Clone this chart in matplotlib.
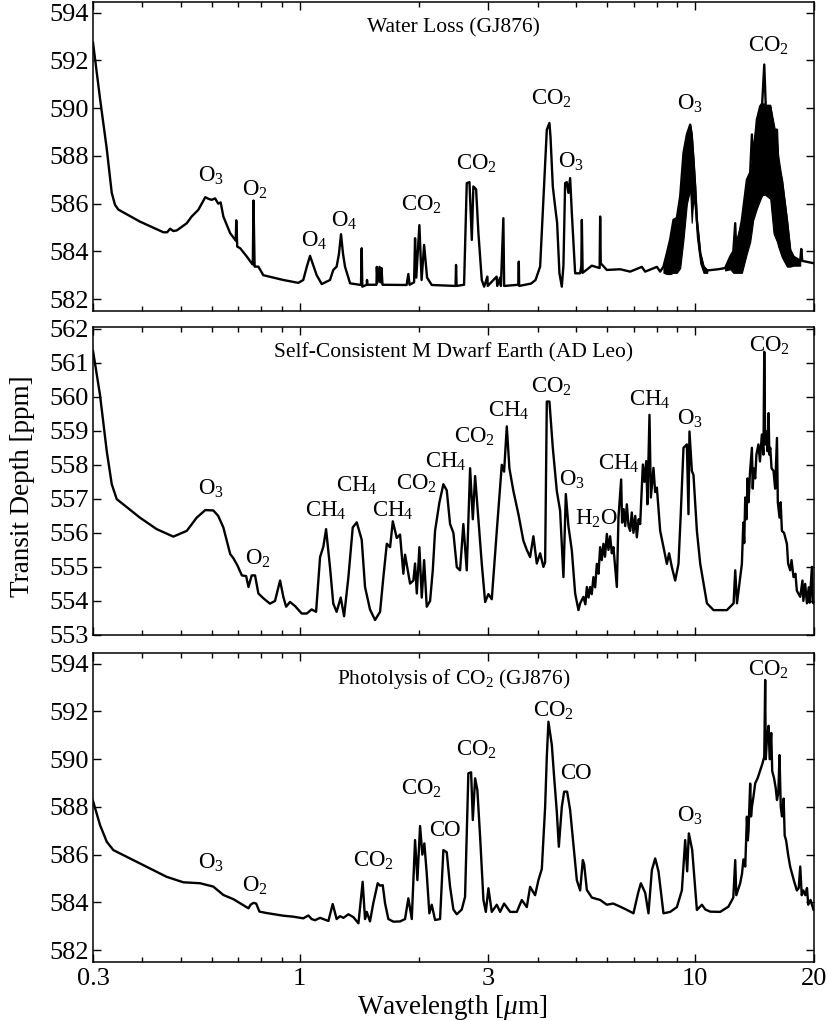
import numpy as np
import matplotlib
matplotlib.use("Agg")
import matplotlib.pyplot as plt
from matplotlib.ticker import FixedLocator, LogLocator, NullFormatter

plt.rcParams['font.family'] = ['Liberation Serif', 'DejaVu Serif']
plt.rcParams['mathtext.fontset'] = 'custom'
plt.rcParams['mathtext.rm'] = 'Liberation Serif'
plt.rcParams['mathtext.it'] = 'Liberation Serif:italic'

# ---- Water Loss (GJ876) ----
wl_water = [0.300, 0.3125, 0.325, 0.3346, 0.341, 0.3477, 0.394, 0.452, 0.462, 0.470,
            0.479, 0.489, 0.518, 0.533, 0.554, 0.577, 0.588, 0.599, 0.611, 0.622,
            0.631, 0.641, 0.667, 0.689, 0.691, 0.695, 0.707, 0.735, 0.756, 0.761,
            0.764, 0.769, 0.786, 0.809, 0.909, 0.992, 1.021, 1.042, 1.062, 1.083,
            1.104, 1.137, 1.193, 1.216, 1.240, 1.257, 1.272, 1.287, 1.302, 1.341,
            1.429, 1.435, 1.440, 1.478, 1.480, 1.484, 1.564, 1.567, 1.574, 1.592,
            1.601, 1.610, 1.620, 1.864, 1.883, 1.896, 1.947, 1.958, 1.972, 2.008,
            2.034, 2.064, 2.100, 2.158, 2.479, 2.486, 2.494, 2.605, 2.646, 2.688,
            2.725, 2.750, 2.794, 2.832, 2.888, 2.928, 2.984, 2.990, 3.149, 3.160,
            3.213, 3.228, 3.275, 3.290, 3.575, 3.583, 3.590, 3.849, 3.950, 4.057,
            4.136, 4.218, 4.283, 4.310, 4.368, 4.427, 4.479, 4.540, 4.603, 4.647,
            4.693, 4.739, 4.784, 4.832, 4.880, 4.975, 5.122, 5.158, 5.173, 5.197,
            5.483, 5.738, 5.755, 5.775, 5.984, 6.466, 6.854, 7.338, 7.481, 8.009,
            8.164, 8.322, 8.489, 8.654, 8.822, 8.998, 9.173, 9.351, 9.538, 9.723,
            9.809, 9.912, 10.01, 10.11, 10.31, 10.51, 10.74, 11.45, 11.92, 12.28,
            12.50, 12.64, 12.72, 13.14, 13.53, 13.79, 13.93, 14.03, 14.34, 14.62,
            14.79, 14.97, 15.10, 15.50, 15.80, 16.12, 16.24, 16.59, 17.08, 17.41,
            17.75, 18.46, 18.57, 18.68, 20.0]
td_water = [592.75, 590.4, 588.3, 586.45, 585.95, 585.75, 585.25, 584.8, 584.8, 584.95,
            584.85, 584.88, 585.18, 585.46, 585.74, 586.27, 586.2, 586.16, 586.22, 586.0,
            586.05, 585.46, 584.76, 584.45, 585.3, 584.2, 584.13, 583.78, 583.5, 583.45,
            586.13, 583.36, 583.36, 583.0, 582.8, 582.68, 582.8, 583.35, 583.81, 583.4,
            583.0, 582.63, 582.8, 583.22, 583.36, 583.9, 584.72, 583.9, 583.36, 582.66,
            582.59, 584.13, 582.52, 582.6, 582.8, 582.6, 582.6, 583.35, 582.7, 583.35,
            582.7, 583.3, 582.6, 582.59, 583.05, 582.6, 582.7, 584.55, 582.9, 585.1,
            582.8, 584.27, 582.9, 582.59, 582.55, 583.43, 582.55, 582.6, 586.86, 586.9,
            584.48, 586.72, 586.6, 584.76, 582.8, 582.52, 582.94, 582.55, 582.94, 582.55,
            582.9, 582.55, 585.39, 582.55, 582.6, 583.57, 582.55, 582.65, 582.8, 583.36,
            586.16, 589.1, 589.38, 588.8, 586.72, 585.88, 585.2, 583.08, 582.52, 583.4,
            586.86, 586.9, 586.45, 587.07, 585.6, 583.08, 583.08, 583.4, 585.32, 583.1,
            583.4, 583.3, 585.46, 583.5, 583.22, 583.25, 583.15, 583.35, 583.15, 583.35,
            583.15, 583.36, 583.92, 584.5, 585.32, 585.4, 586.3, 588.12, 588.9, 589.31,
            588.9, 587.84, 586.72, 585.32, 583.92, 583.36, 583.2, 583.25, 583.3, 583.78,
            584.0, 585.18, 584.0, 585.32, 587.0, 587.3, 588.9, 587.8, 589.52, 590.08,
            590.2, 591.83, 590.1, 590.1, 589.1, 589.1, 587.6, 587.0, 585.32, 584.06,
            583.78, 583.6, 584.1, 583.6, 583.5]

# dense (unresolved) bands of the Water Loss spectrum: lower / upper envelopes
wl_o3band = [8.322, 8.489, 8.654, 8.822, 8.998, 9.173, 9.351, 9.538, 9.723, 9.809,
             9.912, 10.01, 10.11, 10.31, 10.51, 10.74]
o3band_hi = [583.36, 583.92, 584.5, 585.32, 585.4, 586.3, 588.12, 588.9, 589.31, 588.9,
             587.84, 586.72, 585.32, 583.92, 583.36, 583.2]
o3band_lo = [583.1, 583.05, 583.05, 583.1, 583.1, 583.3, 584.5, 586.0, 586.6, 585.2,
             586.3, 585.7, 584.6, 583.5, 583.1, 583.1]

wl_co2band = [11.92, 12.28, 12.50, 12.64, 12.72, 13.14, 13.53, 13.79, 13.93, 14.03,
              14.34, 14.62, 14.79, 14.97, 15.10, 15.50, 15.80, 16.12, 16.24, 16.59,
              17.08, 17.41, 17.75, 18.46]
co2band_hi = [583.3, 583.78, 584.0, 584.3, 584.5, 585.32, 587.0, 587.3, 587.9, 588.5,
              589.52, 590.08, 590.2, 590.2, 590.1, 590.1, 589.4, 588.6, 588.0, 587.0,
              585.32, 584.06, 583.78, 583.6]
co2band_lo = [583.2, 583.25, 583.1, 583.1, 583.1, 583.1, 583.92, 584.4, 584.9, 585.3,
              585.8, 586.16, 586.35, 586.37, 586.35, 586.2, 584.76, 584.4, 584.2, 583.75,
              583.36, 583.36, 583.4, 583.4]

# ---- Self-Consistent M Dwarf Earth (AD Leo) ----
wl_adleo = [0.300, 0.3125, 0.325, 0.3346, 0.3445, 0.3578, 0.394, 0.4347, 0.479, 0.518,
            0.549, 0.577, 0.6045, 0.622, 0.641, 0.667, 0.680, 0.696, 0.714, 0.732,
            0.742, 0.756, 0.771, 0.786, 0.809, 0.841, 0.866, 0.892, 0.909, 0.924,
            0.945, 0.973, 1.012, 1.042, 1.072, 1.100, 1.126, 1.148, 1.166, 1.193,
            1.216, 1.240, 1.270, 1.295, 1.328, 1.362, 1.394, 1.435, 1.463, 1.506,
            1.551, 1.597, 1.628, 1.661, 1.693, 1.720, 1.760, 1.794, 1.829, 1.847,
            1.902, 1.939, 1.958, 1.978, 2.008, 2.036, 2.064, 2.096, 2.137, 2.171,
            2.200, 2.256, 2.309, 2.355, 2.401, 2.448, 2.497, 2.545, 2.594, 2.646,
            2.698, 2.741, 2.778, 2.832, 2.888, 2.945, 3.002, 3.061, 3.152, 3.245,
            3.289, 3.341, 3.392, 3.472, 3.575, 3.680, 3.754, 3.827, 3.901, 3.979,
            4.057, 4.136, 4.177, 4.218, 4.283, 4.368, 4.471, 4.558, 4.647, 4.712,
            4.784, 4.880, 4.975, 5.072, 5.122, 5.221, 5.280, 5.326, 5.380, 5.429,
            5.480, 5.534, 5.590, 5.645, 5.700, 5.755, 5.810, 5.867, 5.920, 5.984,
            6.040, 6.100, 6.160, 6.218, 6.343, 6.403, 6.504, 6.540, 6.599, 6.660,
            6.723, 6.790, 6.854, 6.920, 6.987, 7.060, 7.127, 7.200, 7.266, 7.381,
            7.450, 7.525, 7.581, 7.671, 7.733, 7.851, 7.930, 8.009, 8.164, 8.322,
            8.489, 8.600, 8.740, 8.910, 9.083, 9.200, 9.351, 9.538, 9.627, 9.683,
            9.819, 9.912, 10.11, 10.31, 10.72, 11.14, 12.04, 12.52, 12.64, 12.77,
            13.14, 13.25, 13.32, 13.40, 13.50, 13.58, 13.66, 13.78, 13.93, 14.00,
            14.06, 14.20, 14.30, 14.47, 14.60, 14.76, 14.90, 14.97, 15.05, 15.14,
            15.25, 15.35, 15.42, 15.50, 15.62, 15.80, 15.95, 16.12, 16.20, 16.36,
            16.47, 16.59, 16.80, 17.08, 17.20, 17.41, 17.55, 17.75, 17.95, 18.10,
            18.46, 18.70, 18.80, 19.00, 19.19, 19.40, 19.50, 19.76, 19.85, 20.0]
td_adleo = [561.35, 560.05, 558.4, 557.43, 556.99, 556.84, 556.45, 556.11, 555.89, 556.06,
            556.45, 556.67, 556.66, 556.5, 556.16, 555.38, 555.25, 555.04, 554.75, 554.73,
            554.41, 554.75, 554.75, 554.22, 554.08, 553.92, 554.0, 554.6, 554.12, 553.83,
            553.97, 553.85, 553.63, 553.63, 553.75, 553.68, 555.29, 555.6, 556.11, 554.99,
            553.92, 553.68, 554.1, 553.55, 554.7, 556.16, 556.31, 555.8, 554.41, 553.75,
            553.44, 553.68, 554.7, 555.68, 555.58, 556.34, 555.85, 555.95, 554.8, 555.36,
            554.51, 554.6, 555.1, 554.22, 555.58, 554.1, 555.2, 553.83, 554.0, 554.9,
            556.06, 556.89, 557.43, 557.25, 556.26, 556.0, 554.99, 554.9, 556.26, 554.9,
            557.9, 556.4, 557.67, 556.4, 555.09, 553.97, 554.2, 554.05, 556.06, 558.0,
            557.8, 559.13, 557.9, 557.23, 556.55, 555.77, 555.5, 555.29, 555.9, 555.1,
            555.4, 555.0, 555.14, 559.86, 559.86, 558.5, 557.23, 556.65, 554.7, 557.14,
            556.2, 555.48, 554.22, 553.73, 553.93, 554.12, 553.9, 554.41, 554.1, 554.41,
            554.2, 554.7, 554.4, 555.09, 554.8, 555.58, 555.2, 555.68, 555.3, 555.97,
            555.5, 555.9, 555.4, 555.58, 554.41, 556.45, 557.57, 556.3, 556.7, 556.2,
            556.84, 556.2, 556.06, 556.6, 556.0, 556.5, 555.87, 556.4, 556.26, 558.01,
            557.5, 558.11, 556.84, 559.47, 557.04, 557.91, 557.2, 557.33, 556.06, 555.58,
            555.09, 555.4, 554.99, 554.6, 555.09, 556.5, 558.5, 558.6, 556.55, 558.98,
            557.82, 557.7, 556.06, 555.09, 553.93, 553.73, 553.73, 553.93, 554.9, 553.93,
            555.09, 556.3, 555.7, 557.04, 556.4, 557.6, 556.9, 557.8, 558.5, 557.3,
            557.9, 557.6, 558.3, 558.6, 558.1, 558.89, 558.3, 561.32, 558.6, 558.98,
            558.4, 559.52, 558.3, 558.5, 557.9, 557.82, 557.3, 558.79, 556.9, 556.45,
            556.9, 556.06, 556.0, 555.68, 555.1, 554.9, 555.2, 554.7, 554.8, 554.3,
            554.12, 554.6, 554.0, 554.5, 553.93, 554.4, 553.95, 555.0, 553.95, 553.93]

# ---- Photolysis of CO2 (GJ876) ----
wl_photo = [0.300, 0.3125, 0.325, 0.3377, 0.3792, 0.418, 0.4606, 0.5077, 0.560, 0.6045,
            0.641, 0.680, 0.707, 0.742, 0.751, 0.764, 0.776, 0.791, 0.826, 0.909,
            0.962, 1.021, 1.052, 1.072, 1.093, 1.126, 1.148, 1.182, 1.212, 1.240,
            1.265, 1.290, 1.328, 1.367, 1.408, 1.443, 1.463, 1.478, 1.506, 1.535,
            1.575, 1.597, 1.622, 1.644, 1.676, 1.726, 1.794, 1.847, 1.883, 1.921,
            1.958, 1.985, 2.016, 2.043, 2.067, 2.096, 2.128, 2.158, 2.200, 2.265,
            2.309, 2.355, 2.401, 2.448, 2.497, 2.570, 2.620, 2.671, 2.714, 2.741,
            2.778, 2.815, 2.860, 2.916, 2.957, 3.002, 3.061, 3.152, 3.213, 3.289,
            3.406, 3.542, 3.646, 3.754, 3.827, 3.940, 4.017, 4.097, 4.177, 4.218,
            4.258, 4.343, 4.401, 4.471, 4.524, 4.603, 4.666, 4.748, 4.832, 4.926,
            5.024, 5.122, 5.203, 5.243, 5.326, 5.483, 5.755, 5.984, 6.207, 6.466,
            6.696, 6.987, 7.181, 7.296, 7.481, 7.626, 7.778, 7.930, 8.084, 8.322,
            8.654, 8.998, 9.264, 9.444, 9.555, 9.647, 9.837, 9.912, 10.11, 10.41,
            10.62, 10.93, 11.58, 12.15, 12.50, 12.64, 12.72, 13.01, 13.15, 13.26,
            13.40, 13.53, 13.60, 13.66, 13.79, 13.86, 13.93, 14.05, 14.20, 14.40,
            14.62, 14.80, 14.97, 15.05, 15.10, 15.20, 15.35, 15.45, 15.59, 15.68,
            15.85, 16.00, 16.12, 16.25, 16.36, 16.48, 16.60, 16.76, 16.86, 17.00,
            17.20, 17.41, 17.60, 17.80, 18.10, 18.30, 18.46, 18.62, 18.80, 19.01,
            19.20, 19.34, 19.60, 19.95, 20.0]
td_photo = [588.25, 587.24, 586.54, 586.19, 585.77, 585.42, 585.07, 584.84, 584.8, 584.66,
            584.31, 584.13, 583.96, 583.75, 583.9, 583.98, 583.95, 583.61, 583.55, 583.44,
            583.4, 583.33, 583.45, 583.3, 583.25, 583.35, 583.3, 583.22, 583.93, 583.3,
            583.42, 583.35, 583.5, 583.38, 583.12, 584.86, 583.3, 583.6, 583.2, 583.96,
            584.8, 584.7, 584.72, 583.96, 583.3, 583.19, 583.2, 583.3, 584.17, 583.3,
            586.61, 584.93, 587.2, 586.0, 586.47, 585.2, 583.54, 583.9, 583.26, 583.3,
            586.19, 586.1, 584.65, 583.7, 583.5, 583.7, 584.23, 589.41, 589.45, 587.45,
            589.2, 588.7, 586.75, 584.1, 583.6, 584.59, 583.6, 583.9, 583.6, 583.95,
            583.6, 583.6, 584.1, 583.8, 584.65, 584.3, 584.93, 585.4, 588.0, 590.1,
            591.57, 590.6, 589.27, 587.8, 586.33, 588.0, 588.64, 588.64, 587.87, 586.4,
            584.93, 584.5, 585.77, 585.6, 584.52, 584.2, 584.1, 583.9, 583.95, 583.82,
            583.7, 583.54, 584.4, 584.8, 584.4, 583.54, 585.35, 585.84, 585.3, 583.54,
            583.6, 583.8, 584.5, 586.61, 585.3, 586.89, 586.2, 585.5, 583.68, 583.9,
            583.7, 583.61, 583.6, 583.82, 584.2, 585.77, 584.3, 584.8, 585.2, 585.8,
            585.5, 587.59, 586.6, 587.0, 588.98, 587.6, 588.0, 588.4, 588.99, 589.2,
            589.54, 589.8, 590.1, 593.32, 590.0, 590.8, 591.4, 590.0, 591.1, 589.5,
            589.2, 588.8, 588.29, 588.6, 590.17, 588.0, 587.6, 588.35, 586.8, 586.6,
            586.0, 585.49, 585.2, 584.9, 584.5, 584.6, 585.5, 584.3, 584.5, 584.3,
            584.6, 583.9, 584.1, 583.68, 583.7]

# molecule labels: (text, wavelength, depth)
labels_water = [("O$_3$", 0.597, 587.15), ("O$_2$", 0.770, 586.58), ("O$_4$", 1.090, 584.46),
                ("O$_4$", 1.299, 585.26), ("CO$_2$", 2.036, 585.95), ("CO$_2$", 2.799, 587.67),
                ("CO$_2$", 4.333, 590.40), ("O$_3$", 4.860, 587.76), ("O$_3$", 9.723, 590.19),
                ("CO$_2$", 15.32, 592.63)]
labels_adleo = [("O$_3$", 0.597, 557.29), ("O$_2$", 0.782, 555.25), ("CH$_4$", 1.165, 556.66),
                ("CH$_4$", 1.397, 557.38), ("CH$_4$", 1.723, 556.65), ("CO$_2$", 1.973, 557.44),
                ("CH$_4$", 2.346, 558.10), ("CO$_2$", 2.770, 558.81), ("CH$_4$", 3.377, 559.60),
                ("CO$_2$", 4.338, 560.30), ("O$_3$", 4.875, 557.55), ("H$_2$O", 5.622, 556.42),
                ("CH$_4$", 6.410, 558.04), ("CH$_4$", 7.702, 559.92), ("O$_3$", 9.723, 559.35),
                ("CO$_2$", 15.45, 561.49)]
labels_photo = [("O$_3$", 0.597, 585.65), ("O$_2$", 0.770, 584.68), ("CO$_2$", 1.533, 585.73),
                ("CO$_2$", 2.036, 588.75), ("CO", 2.332, 587.03), ("CO$_2$", 2.799, 590.39),
                ("CO$_2$", 4.376, 592.02), ("CO", 4.990, 589.40), ("O$_3$", 9.723, 587.62),
                ("CO$_2$", 15.32, 593.74)]

titles = ["Water Loss (GJ876)", "Self-Consistent M Dwarf Earth (AD Leo)",
          "Photolysis of CO$_2$ (GJ876)"]
xtick_vals = [0.3, 1, 3, 10, 20]
xtick_labels = ["0.3", "1", "3", "10", "20"]

fig = plt.figure(figsize=(8.29, 10.21), dpi=100)
ax1 = fig.add_axes([0.1122, 0.6954, 0.8697, 0.3026])
ax2 = fig.add_axes([0.1122, 0.3781, 0.8697, 0.3016])
ax3 = fig.add_axes([0.1122, 0.0578, 0.8697, 0.3026])

lw = 1.7
ax1.fill_between(wl_o3band, o3band_lo, o3band_hi, color='black', lw=0.8)
ax1.fill_between(wl_co2band, co2band_lo, co2band_hi, color='black', lw=0.8)
ax1.plot(wl_water, td_water, color='black', lw=lw)
ax2.plot(wl_adleo, td_adleo, color='black', lw=lw)
ax3.plot(wl_photo, td_photo, color='black', lw=lw)

ax1.set_ylim(581.5, 594.45)
ax2.set_ylim(553.0, 562.05)
ax3.set_ylim(581.5, 594.45)
ax1.set_yticks(np.arange(582, 595, 2))
ax2.set_yticks(np.arange(553, 563, 1))
ax3.set_yticks(np.arange(582, 595, 2))

all_labels = [labels_water, labels_adleo, labels_photo]
for ax, labs, title in zip([ax1, ax2, ax3], all_labels, titles):
    ax.set_xscale('log')
    ax.set_xlim(0.3, 20)
    ax.xaxis.set_major_locator(FixedLocator(xtick_vals))
    ax.xaxis.set_minor_locator(LogLocator(base=10, subs=np.arange(2, 10)))
    ax.xaxis.set_minor_formatter(NullFormatter())
    ax.tick_params(which='both', direction='in', top=True, right=True,
                   labelsize=19, width=1.0)
    ax.tick_params(which='major', length=6, pad=3)
    ax.tick_params(which='minor', length=3.5)
    for sp in ax.spines.values():
        sp.set_linewidth(1.1)
    for txt, x, y in labs:
        ax.text(x, y, txt, ha='center', va='center', fontsize=16.5)
    ax.text(0.5, 0.915, title, transform=ax.transAxes, ha='center', va='center',
            fontsize=15.5)
    if ax is ax3:
        ax.set_xticklabels(xtick_labels)
        ax.tick_params(axis='x', pad=4)
    else:
        ax.set_xticklabels([])

fig.text(0.027, 0.524, "Transit Depth [ppm]", rotation=90, ha='center', va='center',
         fontsize=19.5)
fig.text(0.546, 0.013, r"Wavelength [$\mu$m]", ha='center', va='center', fontsize=19.5)

fig.savefig("out.png", dpi=100)
